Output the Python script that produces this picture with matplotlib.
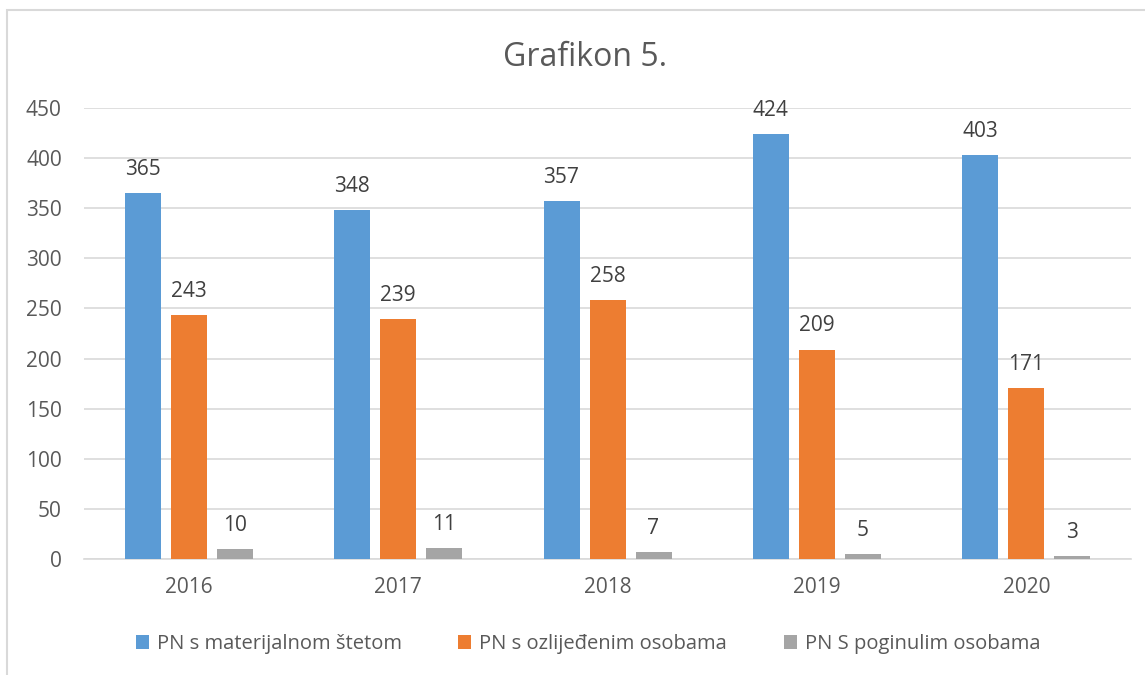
import matplotlib
matplotlib.use("Agg")
import matplotlib.pyplot as plt
import numpy as np
from matplotlib.patches import Rectangle

years = ["2016", "2017", "2018", "2019", "2020"]
materijalna = [365, 348, 357, 424, 403]
ozlijedeni = [243, 239, 258, 209, 171]
poginuli = [10, 11, 7, 5, 3]
series_names = ["PN s materijalnom štetom", "PN s ozlijeđenim osobama", "PN S poginulim osobama"]
colors = ["#5B9BD5", "#ED7D31", "#A5A5A5"]
yticks = [0, 50, 100, 150, 200, 250, 300, 350, 400, 450]

plt.rcParams['font.family'] = ['Open Sans', 'DejaVu Sans']
W, H = 1145, 675
fig = plt.figure(figsize=(W/100, H/100), dpi=100)
txt = "#595959"

ax = fig.add_axes([84/W, 1-559/H, (1131-84)/W, (559-108)/H])
x = np.arange(len(years))
bw = 36/209.4
step = 46/209.4
for i, (vals, name, c) in enumerate(zip([materijalna, ozlijedeni, poginuli], series_names, colors)):
    pos = x + (i-1)*step
    ax.bar(pos, vals, bw, color=c, label=name, zorder=3)
    for p, v in zip(pos, vals):
        ax.annotate(str(v), (p, v), xytext=(0, 17), textcoords="offset points",
                    ha="center", va="center", fontsize=15, color="#404040")

ax.set_xlim(-0.5, len(years)-0.5)
ax.set_ylim(0, 450)
ax.set_yticks(yticks)
ax.set_xticks(x)
ax.set_xticklabels(years)
ax.yaxis.grid(True, color="#D9D9D9", linewidth=1.2, zorder=0)
ax.set_axisbelow(True)
for s in ["top", "right", "left"]:
    ax.spines[s].set_visible(False)
ax.spines["bottom"].set_color("#D9D9D9")
ax.spines["bottom"].set_linewidth(1.2)
ax.tick_params(axis="both", length=0, labelsize=15, colors=txt)
ax.tick_params(axis="x", pad=13)
ax.tick_params(axis="y", pad=16)

fig.text(585/W, 1-58/H, "Grafikon 5.", ha="center", va="center", fontsize=23, color=txt)

fig.legend(loc="center", bbox_to_anchor=(588/W, 1-644/H), ncol=3, frameon=False,
           fontsize=14.5, handlelength=0.65, handleheight=0.65, handletextpad=0.4,
           columnspacing=2.8, labelcolor=txt)

fig.patches.append(Rectangle((7/W, -0.05), 1.2, 1-10/H+0.05, transform=fig.transFigure,
                             fill=False, edgecolor="#D9D9D9", linewidth=1.5, zorder=0))

fig.savefig("out.png", dpi=100)
